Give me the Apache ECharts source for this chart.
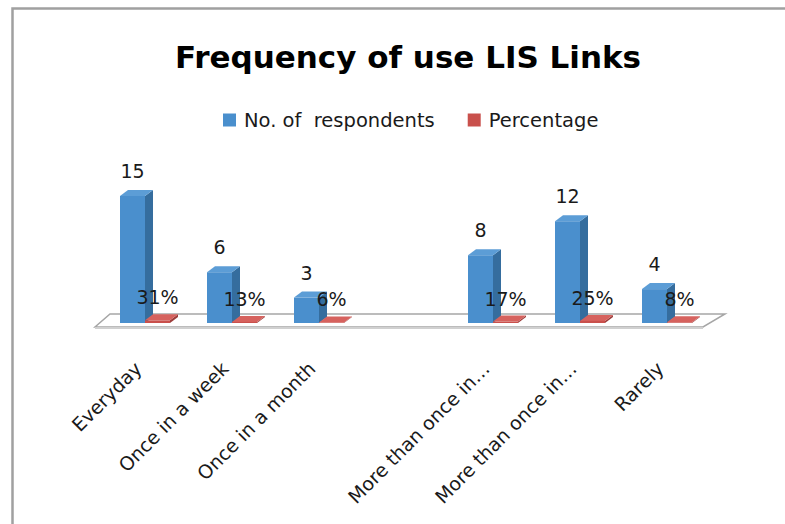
<!DOCTYPE html>
<html>
<head>
<meta charset="utf-8">
<script src="https://cdn.jsdelivr.net/npm/echarts@6/dist/echarts.min.js"></script>
<style>html,body{margin:0;padding:0;background:#fff}#c{width:785px;height:524px}</style>
</head>
<body>
<div id="c"></div>
<script>
var categories = ['Everyday', 'Once in a week', 'Once in a month', '', 'More than once in\u2026', 'More than once in\u2026', 'Rarely'];
var respondents = [15, 6, 3, null, 8, 12, 4];
var percentage = [0.31, 0.13, 0.06, null, 0.17, 0.25, 0.08];
var seriesNames = ['No. of  respondents', 'Percentage'];
var titleText = 'Frequency of use LIS Links';

var FONT = 'DejaVu Sans';
var chart = echarts.init(document.getElementById('c'), null, {renderer: 'svg'});

function toData(arr) {
  var out = [];
  arr.forEach(function (v, i) { if (v != null) out.push([i, v]); });
  return out;
}

function makeRender(side, colors, fmt, lift) {
  return function (params, api) {
    var idx = api.value(0), v = api.value(1);
    var base = api.coord([idx, 0]);
    var top = api.coord([idx, v]);
    var band = api.size([1, 0])[0];
    var w = band * 25 / 87;
    var x0 = side === 'left' ? base[0] - w : base[0];
    var x1 = x0 + w;
    var dx = 8, dy = 6;
    var yb = base[1], yt = top[1];
    return {
      type: 'group',
      children: [
        {type: 'polygon', shape: {points: [[x1, yt], [x1 + dx, yt - dy], [x1 + dx, yb - dy], [x1, yb]]}, style: {fill: colors[1]}},
        {type: 'polygon', shape: {points: [[x0, yt], [x0 + dx, yt - dy], [x1 + dx, yt - dy], [x1, yt]]}, style: {fill: colors[2]}},
        {type: 'rect', shape: {x: x0, y: yt, width: w, height: yb - yt}, style: {fill: colors[0]}},
        {type: 'text', z2: 100, style: {x: (x0 + x1) / 2, y: yt - lift, text: fmt(v), align: 'center', verticalAlign: 'middle', fill: '#1a1a1a', font: '19px "' + FONT + '"'}}
      ]
    };
  };
}

var option = {
  animation: false,
  backgroundColor: '#ffffff',
  title: {
    text: titleText,
    left: 170, top: 36,
    textStyle: {fontFamily: FONT, fontWeight: 'bold', fontSize: 31, color: '#000'}
  },
  legend: {
    data: seriesNames,
    left: 218, top: 105,
    icon: 'rect', itemWidth: 13, itemHeight: 13, itemGap: 33,
    textStyle: {fontFamily: FONT, fontSize: 19.5, color: '#1a1a1a', padding: [0, 0, 0, 3]}
  },
  graphic: [
    {type: 'rect', shape: {x: 12.5, y: 8.5, width: 900, height: 700}, style: {fill: 'none', stroke: '#a0a0a0', lineWidth: 2.5}, silent: true}
  ],
  grid: {left: 101.5, right: 74.5, top: 170.5, bottom: 201},
  xAxis: {
    type: 'category', data: categories,
    axisLine: {show: false}, axisTick: {show: false}, splitLine: {show: false},
    axisLabel: {interval: 0, rotate: 45, margin: 35, padding: [0, 10, 0, 0], fontFamily: FONT, fontSize: 19, color: '#1a1a1a'}
  },
  yAxis: {type: 'value', min: 0, max: 18, show: false, splitLine: {show: false}},
  series: [
    {
      name: 'floor', type: 'custom', z: 1, silent: true,
      data: [[0, 0]],
      renderItem: function (params, api) {
        var cs = params.coordSys;
        var y0 = api.coord([0, 0])[1];
        var L = cs.x, R = cs.x + cs.width;
        return {
          type: 'group', children: [
            {type: 'polygon', shape: {points: [[L - 6.5, y0 + 4], [R - 7.5, y0 + 4], [R + 14.5, y0 - 9], [L + 8.5, y0 - 9]]}, style: {fill: '#ffffff', stroke: '#a6a6a6', lineWidth: 1.5}},
            {type: 'rect', shape: {x: L - 6.5, y: y0 + 4, width: cs.width - 1, height: 2}, style: {fill: '#d0d0d0'}}
          ]
        };
      }
    },
    {
      name: seriesNames[0], type: 'custom', z: 2,
      itemStyle: {color: '#4a8fcd'},
      data: toData(respondents),
      encode: {x: 0, y: 1},
      renderItem: makeRender('left', ['#4a8fcd', '#356d9e', '#5c9dd6'], function (v) { return String(v); }, 25)
    },
    {
      name: seriesNames[1], type: 'custom', z: 3,
      itemStyle: {color: '#c9504c'},
      data: toData(percentage),
      encode: {x: 0, y: 1},
      renderItem: makeRender('right', ['#c9504c', '#9c3c3a', '#d6625e'], function (v) { return Math.round(v * 100) + '%'; }, 23)
    }
  ]
};
chart.setOption(option);
</script>
</body>
</html>
